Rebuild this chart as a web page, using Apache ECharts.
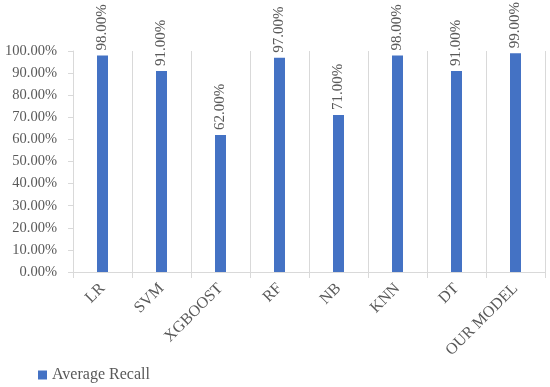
<!DOCTYPE html>
<html>
<head>
<meta charset="utf-8">
<script src="https://cdn.jsdelivr.net/npm/echarts@6/dist/echarts.min.js"></script>
<style>html,body{margin:0;padding:0;background:#fff}#c{width:550px;height:387px}</style>
</head>
<body>
<div id="c"></div>
<script>
const categories = ['LR', 'SVM', 'XGBOOST', 'RF', 'NB', 'KNN', 'DT', 'OUR MODEL'];
const recall = [98, 91, 62, 97, 71, 98, 91, 99];
const seriesName = 'Average Recall';
const FONT = '"Liberation Serif", "Times New Roman", serif';
const chart = echarts.init(document.getElementById('c'), null, {renderer: 'canvas'});
chart.setOption({
  animation: false,
  backgroundColor: '#fff',
  grid: {left: 73, right: 5, top: 51, bottom: 115, containLabel: false},
  legend: {
    left: 33, top: 362, itemWidth: 9, itemHeight: 9, itemGap: 5,
    icon: 'rect',
    textStyle: {fontFamily: FONT, fontSize: 16, color: '#595959'},
    data: [seriesName]
  },
  xAxis: {
    type: 'category',
    data: categories,
    boundaryGap: true,
    axisLine: {show: true, lineStyle: {color: '#d9d9d9', width: 1}},
    axisTick: {show: true, length: 6, alignWithLabel: false, lineStyle: {color: '#d9d9d9'}},
    splitLine: {show: true, lineStyle: {color: '#d9d9d9', width: 1}},
    axisLabel: {rotate: 45, fontFamily: FONT, fontSize: 16, color: '#595959', margin: 14, interval: 0}
  },
  yAxis: {
    type: 'value',
    min: 0, max: 100, interval: 10,
    axisLine: {show: true, lineStyle: {color: '#d9d9d9'}},
    axisTick: {show: true, length: 5, lineStyle: {color: '#d9d9d9'}},
    splitLine: {show: false},
    axisLabel: {fontFamily: FONT, fontSize: 14.5, color: '#595959', margin: 16,
      formatter: v => v.toFixed(2) + '%'}
  },
  series: [{
    name: seriesName,
    type: 'bar',
    data: recall,
    barWidth: 11,
    itemStyle: {color: '#4472C4'},
    label: {
      show: true, position: 'top', rotate: 90, align: 'left', verticalAlign: 'middle',
      distance: 5, fontFamily: FONT, fontSize: 15, color: '#595959',
      formatter: p => p.value.toFixed(2) + '%'
    }
  }]
});
</script>
</body>
</html>
